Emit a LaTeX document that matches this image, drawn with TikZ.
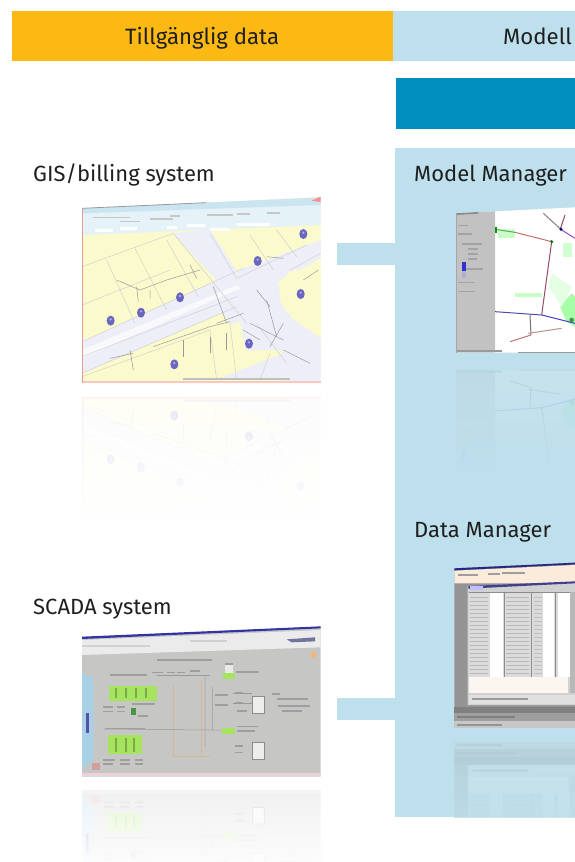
\documentclass[tikz,border=0pt]{standalone}
\usepackage{fontspec}
\setmainfont{Fira Sans}
\usetikzlibrary{fadings}
\definecolor{amber}{HTML}{FDB913}
\definecolor{panelblue}{HTML}{BEDFEC}
\definecolor{deepblue}{HTML}{008FBE}
\definecolor{parcel}{HTML}{FAFACD}
\definecolor{roadw}{HTML}{EDEEF8}
\definecolor{mappin}{HTML}{6A66C0}
\definecolor{uigrey}{HTML}{C6C7C5}
\definecolor{scadagreen}{HTML}{A6E35E}
\tikzset{
  label text/.style={font=\fontsize{22}{26}\selectfont, text=black!88, inner sep=0pt, anchor=base west},
  head text/.style={font=\fontsize{22.2}{26}\selectfont, text=black!88, inner sep=0pt, anchor=base west},
  thin line/.style={line width=0.5pt},
  zoomed/.style={shift={(#1)}, scale=1/3},
}
\newcommand{\mapshot}{%
 \begin{scope}[zoomed={70,190}]
  \fill[parcel] (36,55) -- (752,22) -- (752,580) -- (36,580) -- cycle;
  % header bands
  \fill[white!60!panelblue] (36,55) -- (752,22) -- (752,105) -- (36,135) -- cycle;
  \fill[panelblue!80!white] (36,55) -- (752,22) -- (752,45) -- (36,70) -- cycle;
  \draw[black!40,line width=0.8pt] (36,55) -- (410,38);
  \fill[red!45!white] (725,32) -- (752,20) -- (752,36) -- cycle;
  \foreach \a/\b/\c in {70/80/110, 150/92/60, 240/84/70, 300/76/30, 410/72/80, 500/70/40, 590/66/40}
    \fill[black!22] (\a,\b) rectangle ++(\c,5);
  \foreach \a/\b/\c in {75/118/55, 150/112/50, 290/108/30, 350/103/55, 420/115/60, 500/100/100}
    \fill[white] (\a,\b) rectangle ++(\c,9);
  % roads
  \fill[roadw] (36,455) -- (520,235) -- (752,150) -- (752,205) -- (560,310) -- (500,350) -- (36,550) -- cycle;
  \fill[roadw] (310,130) -- (420,118) -- (530,290) -- (752,445) -- (752,530) -- (660,510) -- (560,400) -- cycle;
  \fill[roadw] (420,300) -- (620,270) -- (700,480) -- (520,480) -- cycle;
  \fill[white!65!roadw] (36,480) -- (500,285) -- (510,295) -- (36,505) -- cycle;
  \fill[parcel] (690,310) circle [x radius=62, y radius=72];
  \fill[parcel] (752,230) -- (690,310) -- (752,430) -- cycle;
  \fill[parcel] (36,560) -- (420,420) -- (510,395) -- (545,570) -- (36,575) -- cycle;
  \fill[roadw] (450,565) -- (640,490) -- (752,530) -- (752,575) -- cycle;
  % parcel lines
  \begin{scope}[black!18,thin line]
   \draw (36,230) -- (310,130) (110,210) -- (195,400) (195,175) -- (290,360) (36,345) -- (300,240) (290,150) -- (385,320);
   \draw (36,455) -- (520,235) (36,550) -- (500,350) (36,500) -- (500,320);
   \draw (420,130) -- (500,265) -- (710,165) (540,135) -- (610,240) (620,120) -- (680,200);
   \draw (310,130) -- (530,400) (560,400) -- (650,520) (420,420) -- (440,570) (480,400) -- (500,570) (600,490) -- (570,570);
   \draw (36,560) -- (420,420) (660,240) -- (752,190);
  \end{scope}
  \begin{scope}[black!40,thin line]
   \draw (140,270) -- (210,300) -- (290,270) -- (390,240) (200,290) -- (205,335) (240,300) -- (240,325);
   \draw (360,225) -- (380,265) (430,290) -- (470,400) (440,400) -- (520,370);
   \draw (250,470) -- (420,410) -- (480,395) (120,505) -- (190,490) (180,480) -- (190,540);
   \draw (540,400) -- (640,450) (590,330) -- (620,440) (520,420) -- (570,450) (640,400) -- (600,470);
   \draw (560,300) -- (600,350) (640,480) -- (720,520);
   \draw (340,450) -- (340,500) (420,440) -- (420,490) (470,430) -- (470,480);
   \draw (590,200) -- (640,205) (700,270) -- (745,240);
  \end{scope}
  \foreach \a/\b in {700/132,563/213,692/312,330/322,213/368,122/392,537/461,313/523}{
    \fill[mappin] (\a,\b) circle [x radius=12, y radius=15];
    \fill[mappin!55!white] (\a,\b-4) circle [radius=4];
  }
  \fill[black!25] (340,565) rectangle (660,571);
  \fill[black!18!red!22] (36,572) rectangle (752,580);
  \fill[black!30!red!40] (36,55) rectangle (40,580);
 \end{scope}}
\newcommand{\scadashot}{%
 \begin{scope}[zoomed={70,560}]
  \fill[uigrey] (36,232) -- (752,200) -- (752,650) -- (36,650) -- cycle;
  \fill[black!8] (36,240) -- (752,210) -- (752,262) -- (36,285) -- cycle;
  \fill[blue!55!black!80] (36,230) -- (752,199) -- (752,205) -- (36,237) -- cycle;
  \fill[black!18] (36,255) rectangle (240,262);
  \fill[black!18] (360,240) rectangle (470,246);
  \fill[blue!30!black!55] (650,238) -- (735,232) -- (735,244) -- (665,247) -- cycle;
  \fill[orange!60] (730,285) circle [radius=8];
  \fill[cyan!15!panelblue] (36,340) -- (70,355) -- (70,600) -- (36,625) -- cycle;
  \fill[blue!35!gray] (48,460) rectangle (56,520);
  \fill[scadagreen] (118,378) rectangle (262,422);
  \fill[scadagreen] (115,525) rectangle (215,582);
  \fill[scadagreen] (460,340) rectangle (495,358);
  \fill[scadagreen] (455,505) rectangle (495,522);
  \fill[green!40!black!70] (183,445) rectangle (197,465);
  \foreach \a in {135,165,195,225} \fill[black!25!scadagreen] (\a,385) rectangle ++(5,30);
  \foreach \a in {135,165,190} \fill[black!25!scadagreen] (\a,535) rectangle ++(5,40);
  \begin{scope}[orange!22!uigrey,line width=0.8pt]
   \draw (310,375) -- (310,590) (395,360) -- (395,590) (310,590) -- (420,590);
  \end{scope}
  \begin{scope}[black!40,thin line]
   \draw (100,507) -- (420,510) -- (455,510) (405,350) -- (405,560) (428,380) -- (428,510);
   \draw (260,345) -- (420,345);
   \draw (490,400) -- (545,400) (490,430) -- (545,430);
  \end{scope}
  \foreach \a/\b/\c in {260/297/165,120/342/110,245/335/35,290/335/25,320/335/25,360/330/30,465/310/25,498/333/70,435/403/40,435/433/40,495/395/25,495/425/25,500/450/30,605/400/25,620/415/95,625/435/95,635/450/60,500/497/65,500/510/55,495/555/25,495/575/25,100/438/30,100/452/30,140/438/25,140/452/25,185/430/70,205/465/30,105/503/120,100/597/35,100/610/30,150/597/30,150/610/30,195/597/25,195/610/25,70/615/20}
    \fill[black!38] (\a,\b) rectangle ++(\c,5);
  \foreach \a/\b in {548/410,548/548}{
    \fill[white!70!uigrey] (\a,\b) rectangle ++(35,50);
    \draw[black!45,line width=0.9pt] (\a,\b) rectangle ++(35,50);
  }
  \fill[white!60!uigrey] (465,315) rectangle (490,340);
  \fill[red!20!uigrey] (65,610) rectangle (90,630);
  \fill[black!20!purple!18] (36,640) rectangle (752,648);
 \end{scope}}
\newcommand{\modelshot}{%
 \begin{scope}[zoomed={395,200}]
  \fill[white] (183,40) -- (540,22) -- (540,458) -- (183,458) -- cycle;
  \fill[black!24] (183,40) -- (300,34) -- (300,458) -- (183,458) -- cycle;
  \fill[black!45] (183,40) -- (250,36) -- (250,41) -- (183,45) -- cycle;
  \fill[black!40] (183,450) rectangle (320,457);
  \fill[black!40] (370,456) rectangle (540,459);
  \draw[black!35,thin line] (183,40) -- (183,458);
  \foreach \a/\b/\c in {190/75/30,190/100/40,200/130/60,220/145/30,220/160/30,220/175/25,205/205/60,190/245/50,190/272/50}
    \fill[black!36] (\a,\b) rectangle ++(\c,4);
  \fill[blue!60!gray] (200,185) rectangle (212,212);
  \fill[blue!25!gray!50] (202,212) rectangle (212,235);
  \fill[green!22!white] (310,88) rectangle (360,115);
  \fill[green!22!white] (360,280) rectangle (440,292);
  \fill[green!35!white] (495,320) -- (530,280) -- (540,290) -- (540,380) -- (515,365) -- cycle;
  \fill[green!18!white] (505,130) rectangle (530,170);
  \fill[green!10!white] (470,220) -- (530,260) -- (500,320) -- (460,260) -- cycle;
  \begin{scope}[line width=1pt]
   \draw[green!40!black!60] (300,88) -- (360,97);
   \draw[red!40!gray!80] (360,97) -- (470,125);
   \draw[black!45!purple!70] (470,125) -- (440,345);
   \draw[black!50!blue!70] (300,335) -- (440,345);
   \draw[blue!55!gray] (440,345) -- (540,370);
   \draw[black!55] (405,345) -- (408,405);
   \draw[red!35!gray!80] (408,405) -- (345,425);
   \draw[black!50] (445,40) -- (500,90);
   \draw[purple!55!blue!70] (500,90) -- (540,115);
   \draw[black!45!purple!70] (510,45) -- (495,90);
   \draw[red!25!gray!70] (400,400) -- (500,385);
  \end{scope}
  \fill[black!55!green] (470,125) circle [radius=5];
  \fill[black!55!blue] (498,88) circle [radius=5];
  \fill[black!40!green] (300,80) rectangle (306,100);
  \fill[green!40!black!70] (530,360) circle [radius=7];
 \end{scope}}
\newcommand{\datashot}{%
 \begin{scope}[zoomed={395,550}]
  \fill[black!42] (178,55) -- (540,38) -- (540,533) -- (178,533) -- cycle;
  \fill[black!12!orange!14!white] (178,62) -- (540,45) -- (540,100) -- (178,100) -- cycle;
  \fill[blue!45!black!85] (178,55) -- (460,42) -- (540,38) -- (540,43) -- (178,61) -- cycle;
  \foreach \a/\b/\c in {190/72/60,280/70/35,320/66/70}
    \fill[black!38] (\a,\b) rectangle ++(\c,6);
  \fill[black!18] (218,108) -- (540,96) -- (540,465) -- (218,465) -- cycle;
  \fill[blue!40!black!75] (220,108) -- (540,94) -- (540,100) -- (220,116) -- cycle;
  \fill[blue!25!white] (225,108) rectangle (265,120);
  \fill[black!14] (222,125) rectangle (525,380);
  \foreach \a/\c in {285/40,445/33,490/35} \fill[white] (\a,130) rectangle ++(\c,250);
  \foreach \b in {140,152,...,372} {
    \fill[black!28] (225,\b) rectangle ++(55,3);
    \fill[black!28] (333,\b) rectangle ++(70,3);
    \fill[black!25] (418,\b) rectangle ++(22,3);
  }
  \fill[black!45] (222,125) rectangle (525,127);
  \draw[black!45,line width=0.8pt] (327,125) -- (327,380) (410,125) -- (410,380) (482,125) -- (482,380);
  \fill[black!22!orange!6!white] (222,380) rectangle (520,430);
  \fill[black!12] (222,435) rectangle (540,463);
  \fill[black!40] (232,445) rectangle (400,451);
  \fill[black!28] (525,125) rectangle (540,430);
  \fill[black!50] (178,470) rectangle (540,490);
  \fill[black!38] (178,490) rectangle (540,512);
  \fill[black!22] (178,512) rectangle (540,533);
  \fill[black!42] (185,522) rectangle (320,527);
  \fill[black!50] (185,498) rectangle (360,503);
 \end{scope}}
\begin{document}
\begin{tikzpicture}[x=1pt,y=-1pt]
\useasboundingbox (0,0) rectangle (575,862);
\fill[white] (0,0) rectangle (575,862);
% column headers and panels
\node[fill=amber,minimum width=381pt,minimum height=50pt,inner sep=0pt,anchor=north west] (leftHead) at (12,11) {};
\node[fill=panelblue,minimum width=182pt,minimum height=50pt,inner sep=0pt,anchor=north west] (rightHead) at (393,11) {};
\node[fill=deepblue,minimum width=179pt,minimum height=51pt,inner sep=0pt,anchor=north west] (subHead) at (396,78) {};
\node[fill=panelblue,minimum width=180pt,minimum height=669pt,inner sep=0pt,anchor=north west] (panel) at (395,148) {};
\node[fill=panelblue,minimum width=58pt,minimum height=22pt,inner sep=0pt,anchor=north west] (linkGis) at (337,243) {};
\node[fill=panelblue,minimum width=58pt,minimum height=22pt,inner sep=0pt,anchor=north west] (linkScada) at (337,698) {};
% screenshots
\mapshot
\scadashot
\begin{scope}
 \clip (395,148) rectangle (575,817);
 \modelshot
 \datashot
\end{scope}
% reflections
\begin{scope}
 \clip (82,396) rectangle (321,520);
 \begin{scope}[transparency group,opacity=0.16,shift={(0,780)},yscale=-1]\mapshot\end{scope}
 \fill[white,path fading=north] (80,396) rectangle (323,522);
\end{scope}
\begin{scope}
 \clip (82,790) rectangle (321,862);
 \begin{scope}[transparency group,opacity=0.24,shift={(0,1566.67)},yscale=-1]\scadashot\end{scope}
 \fill[white,path fading=north] (80,790) rectangle (323,880);
\end{scope}
\begin{scope}
 \clip (456,369) rectangle (575,468);
 \begin{scope}[transparency group,opacity=0.14,shift={(0,722.67)},yscale=-1]\modelshot\end{scope}
 \fill[panelblue,path fading=north] (454,369) rectangle (577,470);
\end{scope}
\begin{scope}
 \clip (454,742) rectangle (575,817);
 \begin{scope}[transparency group,opacity=0.22,shift={(0,1470)},yscale=-1]\datashot\end{scope}
 \fill[panelblue,path fading=north] (452,742) rectangle (577,840);
\end{scope}
% texts
\node[head text] (tData) at (125,44) {Tillgänglig data};
\node[head text] (tModell) at (503,44) {Modell};
\node[label text] (tGis) at (33,181) {GIS/billing system};
\node[label text] (tMM) at (414,181) {Model Manager};
\node[label text] (tDM) at (414,537) {Data Manager};
\node[label text] (tScada) at (33,614) {SCADA system};
\end{tikzpicture}
\end{document}
